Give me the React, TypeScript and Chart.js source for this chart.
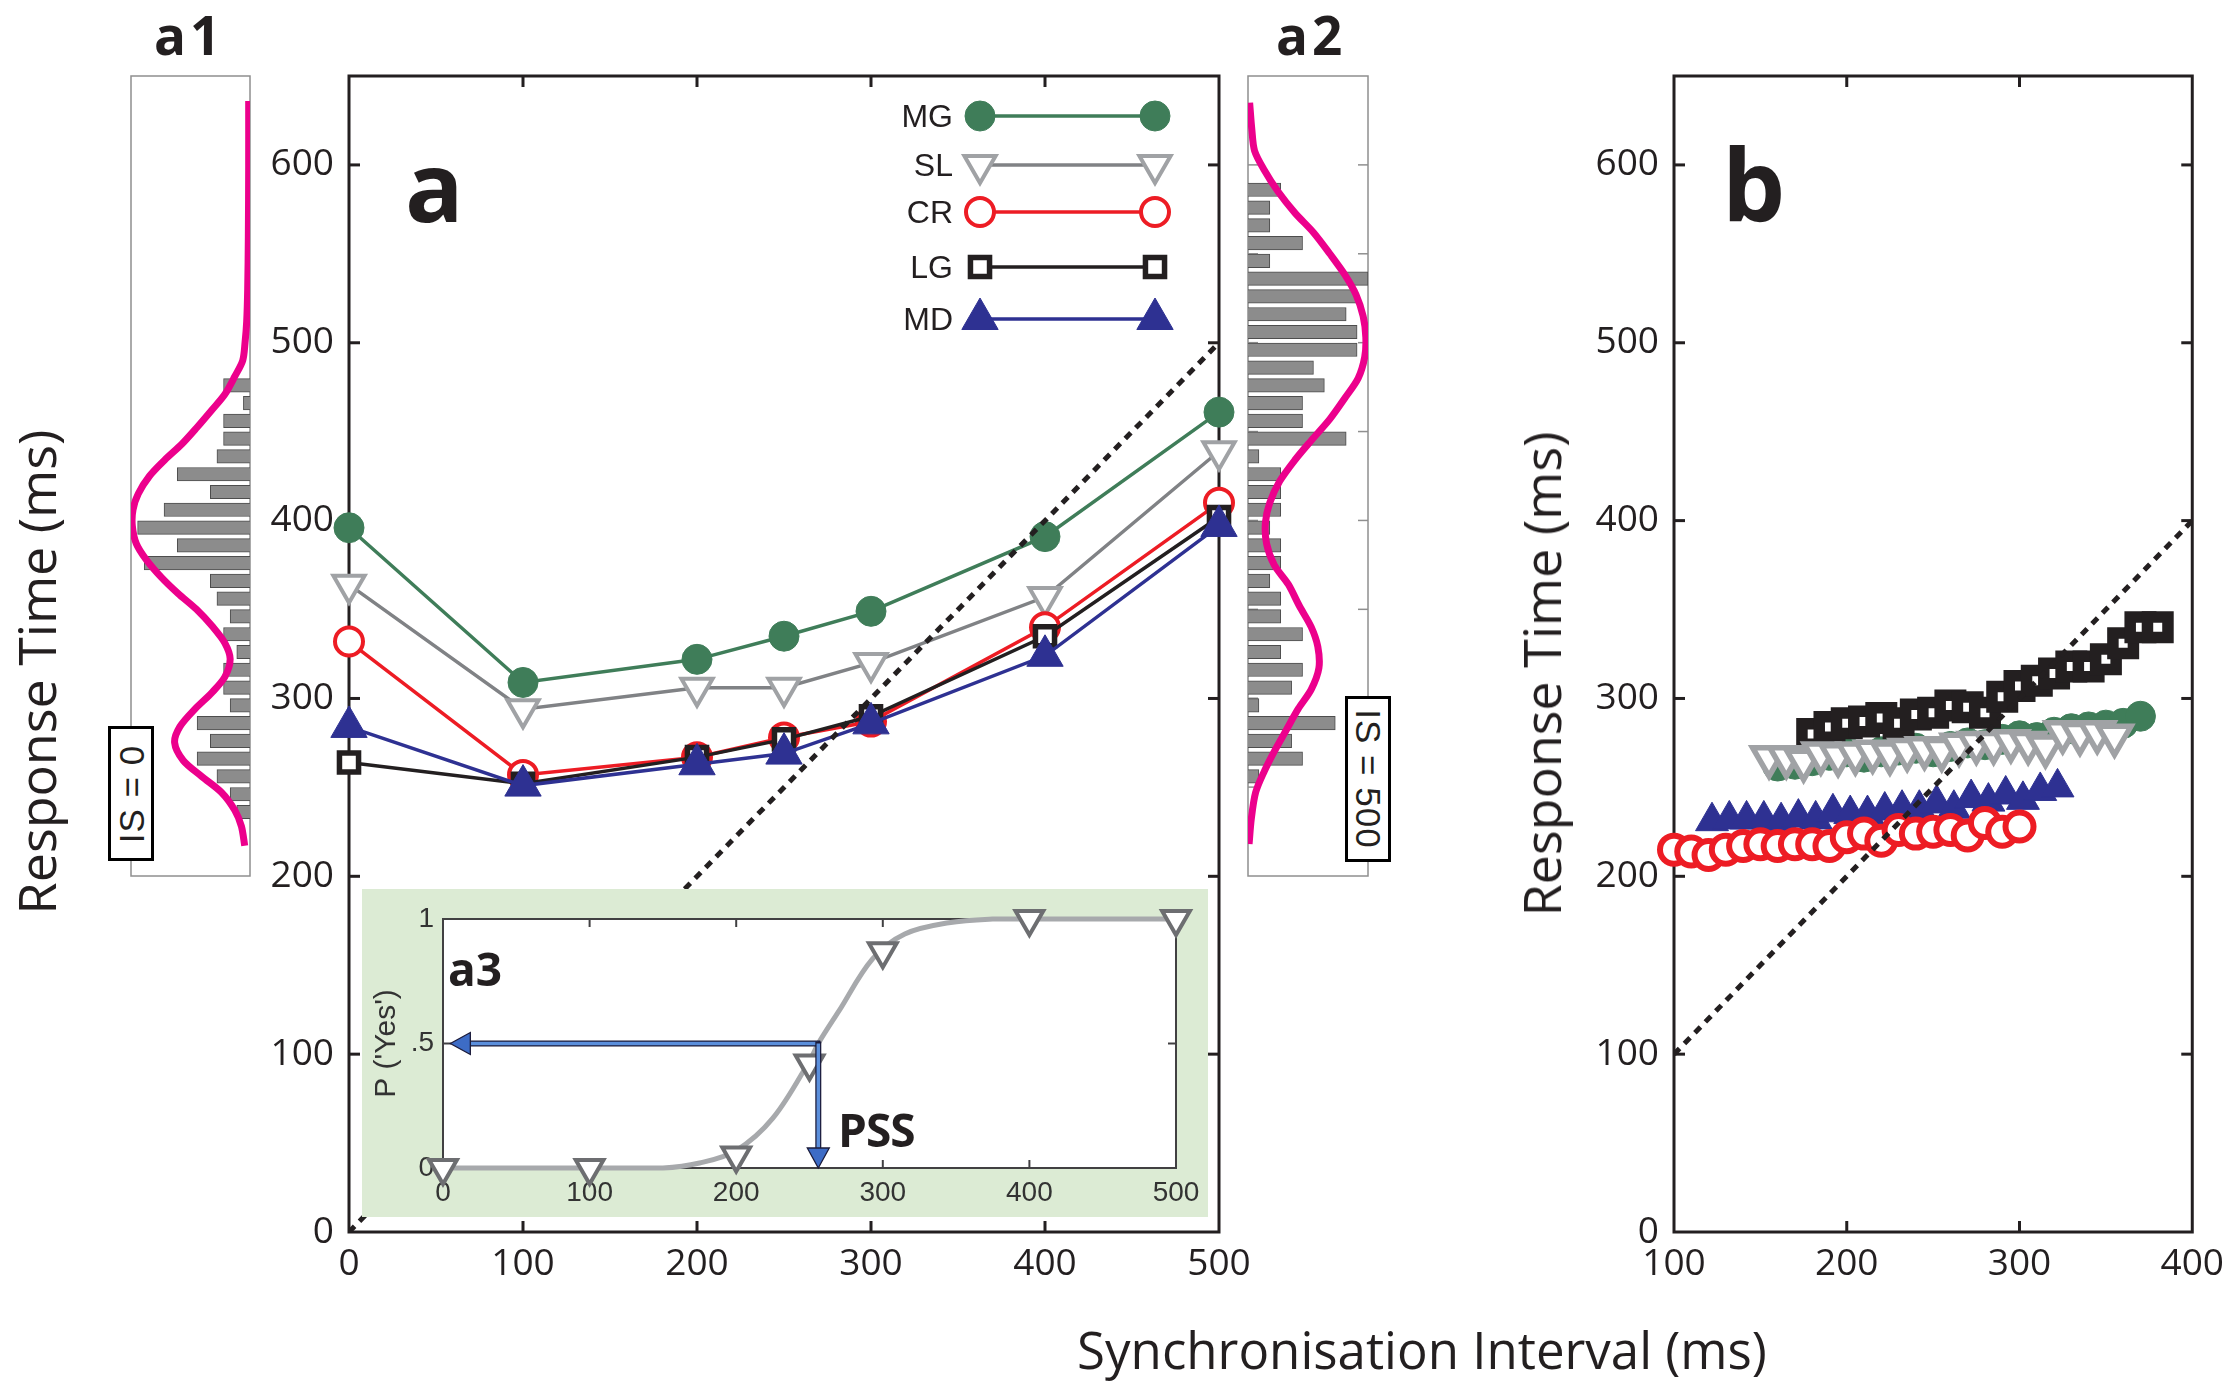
import React, { useEffect, useRef } from 'react';
import { Chart, registerables } from 'chart.js';

Chart.register(...registerables);
Chart.defaults.font.family = 'Open Sans';

// ======================= DATA =======================
// Panel a — mean response time (ms) per synchronisation interval (ms)
const SI_A = [0, 100, 200, 250, 300, 400, 500];
const MG_A = [396, 309, 322, 335, 349, 391, 461];
const SL_A = [364, 294, 306, 306, 320, 357, 439];
const CR_A = [332, 257, 267, 278, 287, 340, 410];
const LG_A = [264, 252, 267, 277, 290, 335, 402];
const MD_A = [284, 251, 263, 269, 286, 324, 397];
const IDENTITY_A = [0, 500];
const X_TICKS_A = [0, 100, 200, 300, 400, 500];
const Y_TICKS = [0, 100, 200, 300, 400, 500, 600];
const SERIES_NAMES = ['MG', 'SL', 'CR', 'LG', 'MD'];

// Panel b — individual runs
const MG_B_X = [160, 170, 180, 190, 200, 210, 220, 230, 240, 250, 260, 270, 280, 290, 300, 310, 320, 330, 340, 350, 360, 370];
const MG_B_Y = [262, 263, 265, 268, 270, 267, 270, 271, 272, 270, 273, 275, 274, 277, 279, 278, 281, 283, 284, 285, 286, 290];
const SL_B_X = [155, 165, 175, 185, 195, 205, 215, 225, 235, 245, 255, 265, 275, 285, 295, 305, 315, 325, 335, 345, 355];
const SL_B_Y = [267, 267, 265, 269, 268, 269, 270, 269, 271, 272, 271, 274, 275, 275, 276, 275, 273, 281, 280, 281, 279];
const CR_B_X = [100, 110, 120, 130, 140, 150, 160, 170, 180, 190, 200, 210, 220, 230, 240, 250, 260, 270, 280, 290, 300];
const CR_B_Y = [215, 214, 212, 215, 217, 218, 217, 218, 218, 217, 222, 224, 220, 226, 224, 225, 226, 223, 230, 225, 228];
const LG_B_X = [180, 190, 200, 210, 220, 230, 240, 250, 260, 270, 280, 290, 300, 310, 320, 330, 340, 350, 360, 370, 380];
const LG_B_Y = [280, 284, 286, 287, 289, 286, 291, 292, 296, 295, 292, 301, 307, 310, 314, 318, 318, 322, 331, 340, 340];
const MD_B_X = [122, 132, 142, 152, 162, 172, 182, 192, 202, 212, 222, 232, 242, 252, 262, 272, 282, 292, 302, 312, 322];
const MD_B_Y = [231, 232, 232, 232, 231, 233, 232, 236, 235, 235, 237, 238, 238, 241, 238, 244, 242, 246, 243, 248, 250];
const IDENTITY_B = [100, 400];
const X_TICKS_B = [100, 200, 300, 400];

// Panel a1 — RT histogram at IS = 0 (counts) and fitted density
const A1_BIN_RT = [476, 466, 456, 446, 436, 426, 416, 406, 396, 386, 376, 366, 356, 346, 336, 326, 316, 306, 296, 286, 276, 266, 256, 246, 236];
const A1_COUNT = [4, 1, 4, 4, 5, 11, 6, 13, 17, 11, 16, 6, 5, 3, 4, 2, 4, 4, 3, 8, 6, 8, 5, 3, 2];
const A1_FIT_RT = [636, 600, 560, 530, 512, 500, 490, 481, 471, 462, 452, 443, 434, 425, 415, 406, 397, 387, 378, 368, 359, 350, 340, 331, 322, 312, 303, 294, 284, 275, 265, 256, 247, 237, 228, 217];
const A1_FIT_DENS = [0.2, 0.2, 0.25, 0.35, 0.5, 0.75, 1.1, 2.3, 3.8, 5.8, 8.1, 10.3, 12.9, 15.2, 16.9, 17.7, 17.8, 17.2, 15.7, 13.4, 10.9, 8.1, 5.6, 3.8, 3.0, 3.8, 5.8, 8.3, 10.6, 11.4, 10.1, 7.3, 4.3, 2.3, 1.3, 0.8];

// Panel a2 — RT histogram at IS = 500 (counts) and fitted density
const A2_BIN_RT = [586, 576, 566, 556, 546, 536, 526, 516, 506, 496, 486, 476, 466, 456, 446, 436, 426, 416, 406, 396, 386, 376, 366, 356, 346, 336, 326, 316, 306, 296, 286, 276, 266, 256];
const A2_COUNT = [3, 2, 2, 5, 2, 11, 10, 9, 10, 10, 6, 7, 5, 5, 9, 1, 3, 3, 3, 2, 3, 3, 2, 3, 3, 5, 3, 5, 4, 1, 8, 4, 5, 1];
const A2_FIT_RT = [635, 620, 608, 597, 585, 573, 562, 550, 538, 527, 515, 503, 492, 480, 469, 457, 445, 434, 422, 410, 399, 387, 375, 364, 352, 340, 329, 317, 305, 294, 282, 270, 259, 247, 232, 218];
const A2_FIT_DENS = [0.15, 0.35, 0.6, 1.5, 2.75, 4.3, 6.0, 7.5, 8.9, 9.9, 10.55, 10.8, 10.7, 10.1, 8.9, 7.5, 5.8, 4.3, 2.9, 2.0, 1.6, 1.7, 2.4, 3.7, 4.7, 5.8, 6.4, 6.5, 5.8, 4.6, 3.5, 2.4, 1.5, 0.7, 0.3, 0.1];
const A2_TICKS = [250, 300, 350, 400, 450, 500, 550, 600];

// Panel a3 — psychometric function (SL)
const A3_SI = [0, 100, 200, 250, 300, 400, 500];
const A3_P = [0, 0, 0.05, 0.42, 0.87, 1, 1];
const A3_FIT_SI = [0, 100, 150, 175, 200, 225, 250, 256, 270, 293, 315, 345, 375, 400, 500];
const A3_FIT_P = [0, 0, 0, 0.02, 0.07, 0.2, 0.43, 0.5, 0.63, 0.84, 0.94, 0.985, 1, 1, 1];
const A3_X_TICKS = [0, 100, 200, 300, 400, 500];
const A3_Y_TICKS = [0, 0.5, 1];
const A3_Y_LABELS = ['0', '.5', '1'];
const PSS = 256;
const P_HALF = 0.5;
const ARROW_TIP_SI = 5;

// ======================= STYLE =======================
const INK = '#231f20';
const GREEN = '#3f7d59';
const GRAY_LINE = '#808285';
const GRAY_MARK = '#a0a2a5';
const RED = '#ed1c24';
const NAVY = '#2e3192';
const MAGENTA = '#ec008c';
const BAR_FILL = '#8c8c8c';
const SANS = 'Liberation Sans';

type Area = { l: number; t: number; r: number; b: number };
type Box = { x: number; y: number; w: number; h: number };
function canvasBox(a: Area, yW: number, xH: number, padT: number, padR: number, padL = 0, padB = 0): Box {
  return { x: a.l - yW - padL, y: a.t - padT, w: padL + yW + (a.r - a.l) + padR, h: padT + (a.b - a.t) + xH + padB };
}
const AREA_A: Area = { l: 349, t: 76, r: 1219, b: 1232 };
const BOX_A = canvasBox(AREA_A, 100, 70, 45, 45);
const AREA_B: Area = { l: 1674, t: 76, r: 2198, b: 1232 };
const BOX_B = canvasBox(AREA_B, 100, 70, 45, 36);
const AREA_A3: Area = { l: 443, t: 919, r: 1176, b: 1168 };
const BOX_A3 = canvasBox(AREA_A3, 81, 49, 30, 32);
const AREA_A1: Area = { l: 131, t: 76, r: 250, b: 876 };
const BOX_A1 = canvasBox(AREA_A1, 0, 0, 4, 4, 4, 4);
const AREA_A2: Area = { l: 1248, t: 76, r: 1368, b: 876 };
const BOX_A2 = canvasBox(AREA_A2, 0, 0, 4, 4, 4, 4);

const STYLE_A: Record<string, any> = {
  MG: { pointStyle: 'circle', pointRadius: 15, pointBackgroundColor: GREEN, pointBorderColor: GREEN, pointBorderWidth: 1, borderColor: GREEN, borderWidth: 3.5, order: 5 },
  SL: { pointStyle: 'triangle', pointRotation: 180, pointRadius: 18, pointBackgroundColor: '#ffffff', pointBorderColor: GRAY_MARK, pointBorderWidth: 4, borderColor: GRAY_LINE, borderWidth: 3.5, order: 4 },
  CR: { pointStyle: 'circle', pointRadius: 14, pointBackgroundColor: '#ffffff', pointBorderColor: RED, pointBorderWidth: 4, borderColor: RED, borderWidth: 3.5, order: 3 },
  LG: { pointStyle: 'rect', pointRadius: 13.5, pointBackgroundColor: '#ffffff', pointBorderColor: INK, pointBorderWidth: 5.5, borderColor: INK, borderWidth: 3.5, order: 2 },
  MD: { pointStyle: 'triangle', pointRotation: 0, pointRadius: 21, pointBackgroundColor: NAVY, pointBorderColor: NAVY, pointBorderWidth: 1, borderColor: NAVY, borderWidth: 3.5, order: 1 },
};
const STYLE_B: Record<string, any> = {
  MG: { pointStyle: 'circle', pointRadius: 15, pointBackgroundColor: GREEN, pointBorderColor: GREEN, pointBorderWidth: 1, order: 5 },
  SL: { pointStyle: 'triangle', pointRotation: 180, pointRadius: 19, pointBackgroundColor: '#ffffff', pointBorderColor: GRAY_MARK, pointBorderWidth: 5.5, order: 3 },
  CR: { pointStyle: 'circle', pointRadius: 14, pointBackgroundColor: '#ffffff', pointBorderColor: RED, pointBorderWidth: 6, order: 1 },
  LG: { pointStyle: 'rect', pointRadius: 14.5, pointBackgroundColor: '#ffffff', pointBorderColor: INK, pointBorderWidth: 11.5, order: 4 },
  MD: { pointStyle: 'triangle', pointRotation: 0, pointRadius: 19, pointBackgroundColor: NAVY, pointBorderColor: NAVY, pointBorderWidth: 1, order: 2 },
};

// ======================= PLUGINS =======================
function drawMarker(ctx: CanvasRenderingContext2D, ds: any, x: number, y: number) {
  const r = ds.pointRadius;
  ctx.save();
  ctx.beginPath();
  if (ds.pointStyle === 'circle') ctx.arc(x, y, r, 0, Math.PI * 2);
  else if (ds.pointStyle === 'rect') {
    const s = r * Math.SQRT1_2;
    ctx.rect(x - s, y - s, 2 * s, 2 * s);
  } else {
    let a = ((ds.pointRotation || 0) * Math.PI) / 180;
    for (let i = 0; i < 3; i++) {
      const px = x + Math.sin(a) * r;
      const py = y - Math.cos(a) * r;
      if (i === 0) ctx.moveTo(px, py);
      else ctx.lineTo(px, py);
      a += (2 * Math.PI) / 3;
    }
    ctx.closePath();
  }
  ctx.fillStyle = ds.pointBackgroundColor;
  ctx.fill();
  ctx.setLineDash([]);
  ctx.lineWidth = ds.pointBorderWidth;
  ctx.strokeStyle = ds.pointBorderColor;
  ctx.stroke();
  ctx.restore();
}

const framePlugin = {
  id: 'frame',
  beforeDatasetsDraw(chart: any, _a: any, o: any) {
    if (!o || !o.show) return;
    const { ctx, chartArea: a, scales } = chart;
    ctx.save();
    ctx.strokeStyle = o.color;
    ctx.lineWidth = o.width;
    ctx.setLineDash([]);
    const seg = (x0: number, y0: number, x1: number, y1: number) => {
      ctx.beginPath();
      ctx.moveTo(x0, y0);
      ctx.lineTo(x1, y1);
      ctx.stroke();
    };
    (o.xTicks || []).forEach((v: number) => {
      const p = scales.x.getPixelForValue(v);
      seg(p, a.bottom, p, a.bottom - o.tickLen);
      seg(p, a.top, p, a.top + o.tickLen);
    });
    (o.yTicks || []).forEach((v: number) => {
      const p = scales.y.getPixelForValue(v);
      seg(a.left, p, a.left + o.tickLen, p);
      seg(a.right, p, a.right - o.tickLen, p);
    });
    ctx.strokeRect(a.left, a.top, a.right - a.left, a.bottom - a.top);
    ctx.restore();
  },
};

const panelBgPlugin = {
  id: 'panelBg',
  beforeDraw(chart: any, _a: any, o: any) {
    if (!o || !o.outer) return;
    const { ctx, chartArea: a, width, height } = chart;
    ctx.save();
    ctx.fillStyle = o.outer;
    ctx.fillRect(0, 0, width, height);
    ctx.fillStyle = o.inner;
    ctx.fillRect(a.left, a.top, a.right - a.left, a.bottom - a.top);
    ctx.restore();
  },
};

const seriesLegendPlugin = {
  id: 'seriesLegend',
  afterDatasetsDraw(chart: any, _a: any, o: any) {
    if (!o || !o.items) return;
    const { ctx, chartArea: a } = chart;
    ctx.save();
    o.items.forEach((label: string, i: number) => {
      const ds = chart.data.datasets.find((d: any) => d.label === label);
      if (!ds) return;
      const y = a.top + o.rows[i];
      const x1 = a.left + o.x1;
      const x2 = a.left + o.x2;
      ctx.font = o.font;
      ctx.fillStyle = o.color;
      ctx.textAlign = 'right';
      ctx.textBaseline = 'middle';
      ctx.fillText(label, a.left + o.textRight, y + o.textDy);
      ctx.beginPath();
      ctx.moveTo(x1, y);
      ctx.lineTo(x2, y);
      ctx.setLineDash([]);
      ctx.strokeStyle = ds.borderColor;
      ctx.lineWidth = ds.borderWidth;
      ctx.stroke();
      drawMarker(ctx, ds, x1, y);
      drawMarker(ctx, ds, x2, y);
    });
    ctx.restore();
  },
};

const arrowPlugin = {
  id: 'arrows',
  afterDatasetsDraw(chart: any, _a: any, o: any) {
    if (!o || !o.list) return;
    const { ctx, scales } = chart;
    ctx.save();
    o.list.forEach(({ from, to }: any) => {
      const x0 = scales.x.getPixelForValue(from[0]);
      const y0 = scales.y.getPixelForValue(from[1]);
      const x1 = scales.x.getPixelForValue(to[0]);
      const y1 = scales.y.getPixelForValue(to[1]);
      const len = Math.hypot(x1 - x0, y1 - y0) || 1;
      const ux = (x1 - x0) / len;
      const uy = (y1 - y0) / len;
      const bx = x1 - ux * o.headLen;
      const by = y1 - uy * o.headLen;
      ctx.lineCap = 'butt';
      ctx.beginPath();
      ctx.moveTo(x0 - ux * 2, y0 - uy * 2);
      ctx.lineTo(bx, by);
      ctx.strokeStyle = o.outline;
      ctx.lineWidth = o.shaft + 2.5;
      ctx.stroke();
      ctx.beginPath();
      ctx.moveTo(x0, y0);
      ctx.lineTo(bx, by);
      ctx.strokeStyle = o.fill;
      ctx.lineWidth = o.shaft;
      ctx.stroke();
      const px = -uy;
      const py = ux;
      ctx.beginPath();
      ctx.moveTo(x1, y1);
      ctx.lineTo(bx + px * o.headHalf, by + py * o.headHalf);
      ctx.lineTo(bx - px * o.headHalf, by - py * o.headHalf);
      ctx.closePath();
      ctx.fillStyle = o.headFill;
      ctx.fill();
      ctx.strokeStyle = o.outline;
      ctx.lineWidth = 1.3;
      ctx.stroke();
    });
    ctx.restore();
  },
};

// ======================= HELPERS =======================
const setTicks = (values: number[]) => (scale: any) => {
  scale.ticks = values.map((v) => ({ value: v }));
};
const fixWidth = (w: number) => (scale: any) => {
  scale.width = w;
};
const fixHeight = (h: number) => (scale: any) => {
  scale.height = h;
};
const pairs = (xs: number[], ys: number[]) => xs.map((x, i) => ({ x, y: ys[i] }));
const hbar = (ys: number[], xs: number[]) => ys.map((y, i) => ({ x: xs[i], y }));

const MAIN_TICK_FONT = { family: 'Open Sans', size: 37 };

function mainScales(xMin: number, xMax: number, xTicks: number[]) {
  return {
    x: {
      type: 'linear',
      min: xMin,
      max: xMax,
      bounds: 'data',
      afterBuildTicks: setTicks(xTicks),
      afterFit: fixHeight(70),
      grid: { display: false, drawTicks: false },
      border: { display: false },
      ticks: { font: MAIN_TICK_FONT, color: INK, padding: 10, autoSkip: false, maxRotation: 0 },
    },
    y: {
      type: 'linear',
      min: 0,
      max: 650,
      bounds: 'data',
      afterBuildTicks: setTicks(Y_TICKS),
      afterFit: fixWidth(100),
      grid: { display: false, drawTicks: false },
      border: { display: false },
      ticks: { font: MAIN_TICK_FONT, color: INK, padding: 15, autoSkip: false },
    },
  };
}

function makePanelA(): any {
  const series: Record<string, number[]> = { MG: MG_A, SL: SL_A, CR: CR_A, LG: LG_A, MD: MD_A };
  const datasets: any[] = [
    {
      label: 'identity',
      data: pairs(IDENTITY_A, IDENTITY_A),
      showLine: true,
      borderColor: INK,
      borderWidth: 5,
      borderDash: [8, 7],
      pointRadius: 0,
      order: 0,
    },
  ];
  SERIES_NAMES.forEach((n) => {
    datasets.push({ label: n, data: pairs(SI_A, series[n]), showLine: true, clip: false, ...STYLE_A[n] });
  });
  return {
    type: 'scatter',
    data: { datasets },
    options: {
      responsive: false,
      animation: false,
      events: [],
      layout: { padding: { top: 45, right: 45, left: 0, bottom: 0 } },
      scales: mainScales(0, 500, X_TICKS_A),
      plugins: {
        legend: { display: false },
        tooltip: { enabled: false },
        frame: { show: true, color: INK, width: 3, tickLen: 11, xTicks: [100, 200, 300, 400], yTicks: [100, 200, 300, 400, 500, 600] },
        seriesLegend: {
          items: SERIES_NAMES,
          rows: [40, 89, 136, 191, 243],
          textRight: 604,
          x1: 631,
          x2: 806,
          textDy: 2,
          font: `32px '${SANS}'`,
          color: INK,
        },
      },
    },
    plugins: [framePlugin, seriesLegendPlugin],
  };
}

function makePanelB(): any {
  const series: Record<string, [number[], number[]]> = {
    MG: [MG_B_X, MG_B_Y],
    SL: [SL_B_X, SL_B_Y],
    CR: [CR_B_X, CR_B_Y],
    LG: [LG_B_X, LG_B_Y],
    MD: [MD_B_X, MD_B_Y],
  };
  const datasets: any[] = [
    {
      label: 'identity',
      data: pairs(IDENTITY_B, IDENTITY_B),
      showLine: true,
      borderColor: INK,
      borderWidth: 5,
      borderDash: [8, 7],
      pointRadius: 0,
      order: 0,
    },
  ];
  SERIES_NAMES.forEach((n) => {
    datasets.push({ label: n, data: pairs(series[n][0], series[n][1]), showLine: false, clip: false, ...STYLE_B[n] });
  });
  return {
    type: 'scatter',
    data: { datasets },
    options: {
      responsive: false,
      animation: false,
      events: [],
      layout: { padding: { top: 45, right: 36, left: 0, bottom: 0 } },
      scales: mainScales(100, 400, X_TICKS_B),
      plugins: {
        legend: { display: false },
        tooltip: { enabled: false },
        frame: { show: true, color: INK, width: 3, tickLen: 11, xTicks: [200, 300], yTicks: [100, 200, 300, 400, 500, 600] },
      },
    },
    plugins: [framePlugin],
  };
}

function makeInset(): any {
  const tickFont = { family: SANS, size: 28 };
  return {
    type: 'scatter',
    data: {
      datasets: [
        {
          label: 'SL',
          data: pairs(A3_SI, A3_P),
          showLine: false,
          clip: false,
          pointStyle: 'triangle',
          pointRotation: 180,
          pointRadius: 16,
          pointBackgroundColor: '#ffffff',
          pointBorderColor: '#6d6e71',
          pointBorderWidth: 4,
          order: 0,
        },
        {
          label: 'fit',
          data: pairs(A3_FIT_SI, A3_FIT_P),
          showLine: true,
          clip: false,
          borderColor: '#a7a9ac',
          borderWidth: 5,
          tension: 0.35,
          pointRadius: 0,
          order: 1,
        },
      ],
    },
    options: {
      responsive: false,
      animation: false,
      events: [],
      layout: { padding: { top: 30, right: 32, left: 0, bottom: 0 } },
      scales: {
        x: {
          type: 'linear',
          min: 0,
          max: 500,
          bounds: 'data',
          afterBuildTicks: setTicks(A3_X_TICKS),
          afterFit: fixHeight(49),
          grid: { display: false, drawTicks: false },
          border: { display: false },
          ticks: { font: tickFont, color: '#333333', padding: 8, autoSkip: false, maxRotation: 0 },
        },
        y: {
          type: 'linear',
          min: 0,
          max: 1,
          bounds: 'data',
          afterBuildTicks: setTicks(A3_Y_TICKS),
          afterFit: fixWidth(81),
          grid: { display: false, drawTicks: false },
          border: { display: false },
          ticks: {
            font: tickFont,
            color: '#333333',
            padding: 9,
            autoSkip: false,
            callback: (v: number) => A3_Y_LABELS[A3_Y_TICKS.indexOf(v)] ?? String(v),
          },
          title: {
            display: true,
            text: "P ('Yes')",
            font: { family: SANS, size: 30 },
            color: '#333333',
            padding: { top: 7, bottom: 0 },
          },
        },
      },
      plugins: {
        legend: { display: false },
        tooltip: { enabled: false },
        panelBg: { outer: '#dcebd4', inner: '#ffffff' },
        frame: { show: true, color: '#414042', width: 2, tickLen: 8, xTicks: [100, 200, 300, 400], yTicks: [0.5] },
        arrows: {
          list: [
            { from: [PSS, P_HALF], to: [ARROW_TIP_SI, P_HALF] },
            { from: [PSS, P_HALF], to: [PSS, 0] },
          ],
          headLen: 20,
          headHalf: 11,
          shaft: 3.5,
          outline: '#1b1b3a',
          fill: '#5b8fdc',
          headFill: '#3d6cc6',
        },
      },
    },
    plugins: [panelBgPlugin, framePlugin, arrowPlugin],
  };
}

function makeHist(rt: number[], count: number[], fitRt: number[], fitDens: number[], maxCount: number, reverse: boolean, ticks: number[]): any {
  return {
    type: 'bar',
    data: {
      datasets: [
        {
          type: 'line',
          label: 'fit',
          data: hbar(fitRt, fitDens),
          indexAxis: 'y',
          borderColor: MAGENTA,
          borderWidth: 7,
          tension: 0.3,
          pointRadius: 0,
          clip: 0,
          order: 0,
        },
        {
          type: 'bar',
          label: 'count',
          data: hbar(rt, count),
          backgroundColor: BAR_FILL,
          borderColor: '#4d4d4d',
          borderWidth: 1,
          barThickness: 13.5,
          order: 1,
        },
      ],
    },
    options: {
      indexAxis: 'y',
      responsive: false,
      animation: false,
      events: [],
      layout: { padding: 4 },
      scales: {
        x: { type: 'linear', min: 0, max: maxCount, reverse, display: false, offset: false },
        y: { type: 'linear', min: 200, max: 650, display: false, offset: false },
      },
      plugins: {
        legend: { display: false },
        tooltip: { enabled: false },
        frame: { show: true, color: '#8f8f8f', width: 1.5, tickLen: 10, xTicks: [], yTicks: ticks },
      },
    },
    plugins: [framePlugin],
  };
}

// ======================= COMPONENTS =======================
function ChartCanvas({ box, make, z = 1 }: { box: Box; make: () => any; z?: number }) {
  const ref = useRef<HTMLCanvasElement | null>(null);
  useEffect(() => {
    if (!ref.current) return;
    const chart = new Chart(ref.current, make());
    return () => chart.destroy();
  }, []);
  return (
    <canvas
      ref={ref}
      width={box.w}
      height={box.h}
      style={{ position: 'absolute', left: box.x, top: box.y, width: box.w, height: box.h, zIndex: z }}
    />
  );
}

const TXT: React.CSSProperties = {
  position: 'absolute',
  color: INK,
  fontFamily: "'Open Sans', sans-serif",
  whiteSpace: 'nowrap',
  lineHeight: 1,
  margin: 0,
  zIndex: 10,
};

function Rotated({ x, y, deg, size, children }: any) {
  return (
    <div
      style={{
        ...TXT,
        left: x,
        top: y,
        fontSize: size,
        transform: `translate(-50%, -50%) rotate(${deg}deg)`,
      }}
    >
      {children}
    </div>
  );
}

function Bold({ x, y, size, children, spacing = 0 }: any) {
  return <div style={{ ...TXT, left: x, top: y, fontSize: size, fontWeight: 700, letterSpacing: spacing }}>{children}</div>;
}

function ISBox({ x, y, w, h, deg, text }: any) {
  return (
    <div
      style={{
        position: 'absolute',
        left: x,
        top: y,
        width: w,
        height: h,
        boxSizing: 'border-box',
        border: '3px solid #000',
        background: '#ffffff',
        zIndex: 10,
      }}
    >
      <div
        style={{
          ...TXT,
          left: '50%',
          top: '50%',
          fontFamily: `'${SANS}', sans-serif`,
          fontSize: 35,
          letterSpacing: 1,
          transform: `translate(-50%, -50%) rotate(${deg}deg)`,
        }}
      >
        {text}
      </div>
    </div>
  );
}

export default function App() {
  return (
    <div style={{ position: 'absolute', left: 0, top: 0, width: 2235, height: 1383, background: '#ffffff', overflow: 'hidden' }}>
      <ChartCanvas box={BOX_A} make={makePanelA} z={1} />
      <ChartCanvas box={BOX_A3} make={makeInset} z={2} />
      <ChartCanvas box={BOX_B} make={makePanelB} z={1} />
      <ChartCanvas box={BOX_A1} make={() => makeHist(A1_BIN_RT, A1_COUNT, A1_FIT_RT, A1_FIT_DENS, 18, true, [])} z={3} />
      <ChartCanvas box={BOX_A2} make={() => makeHist(A2_BIN_RT, A2_COUNT, A2_FIT_RT, A2_FIT_DENS, 11, false, A2_TICKS)} z={3} />

      <Bold x={154} y={8} size={53} spacing={4}>a1</Bold>
      <Bold x={1276} y={8} size={53} spacing={4}>a2</Bold>
      <Bold x={405} y={136} size={97}>a</Bold>
      <Bold x={1722} y={133} size={100}>b</Bold>
      <Bold x={448} y={945} size={46}>a3</Bold>
      <Bold x={838} y={1106} size={46} spacing={-1}>PSS</Bold>

      <ISBox x={108} y={726} w={46} h={135} deg={-90} text="IS = 0" />
      <ISBox x={1345} y={696} w={46} h={166} deg={90} text="IS = 500" />

      <Rotated x={36} y={672} deg={-90} size={52}>Response Time (ms)</Rotated>
      <Rotated x={1541} y={674} deg={-90} size={52}>Response Time (ms)</Rotated>
      <Rotated x={1422} y={1349} deg={0} size={51}>Synchronisation Interval (ms)</Rotated>
    </div>
  );
}
